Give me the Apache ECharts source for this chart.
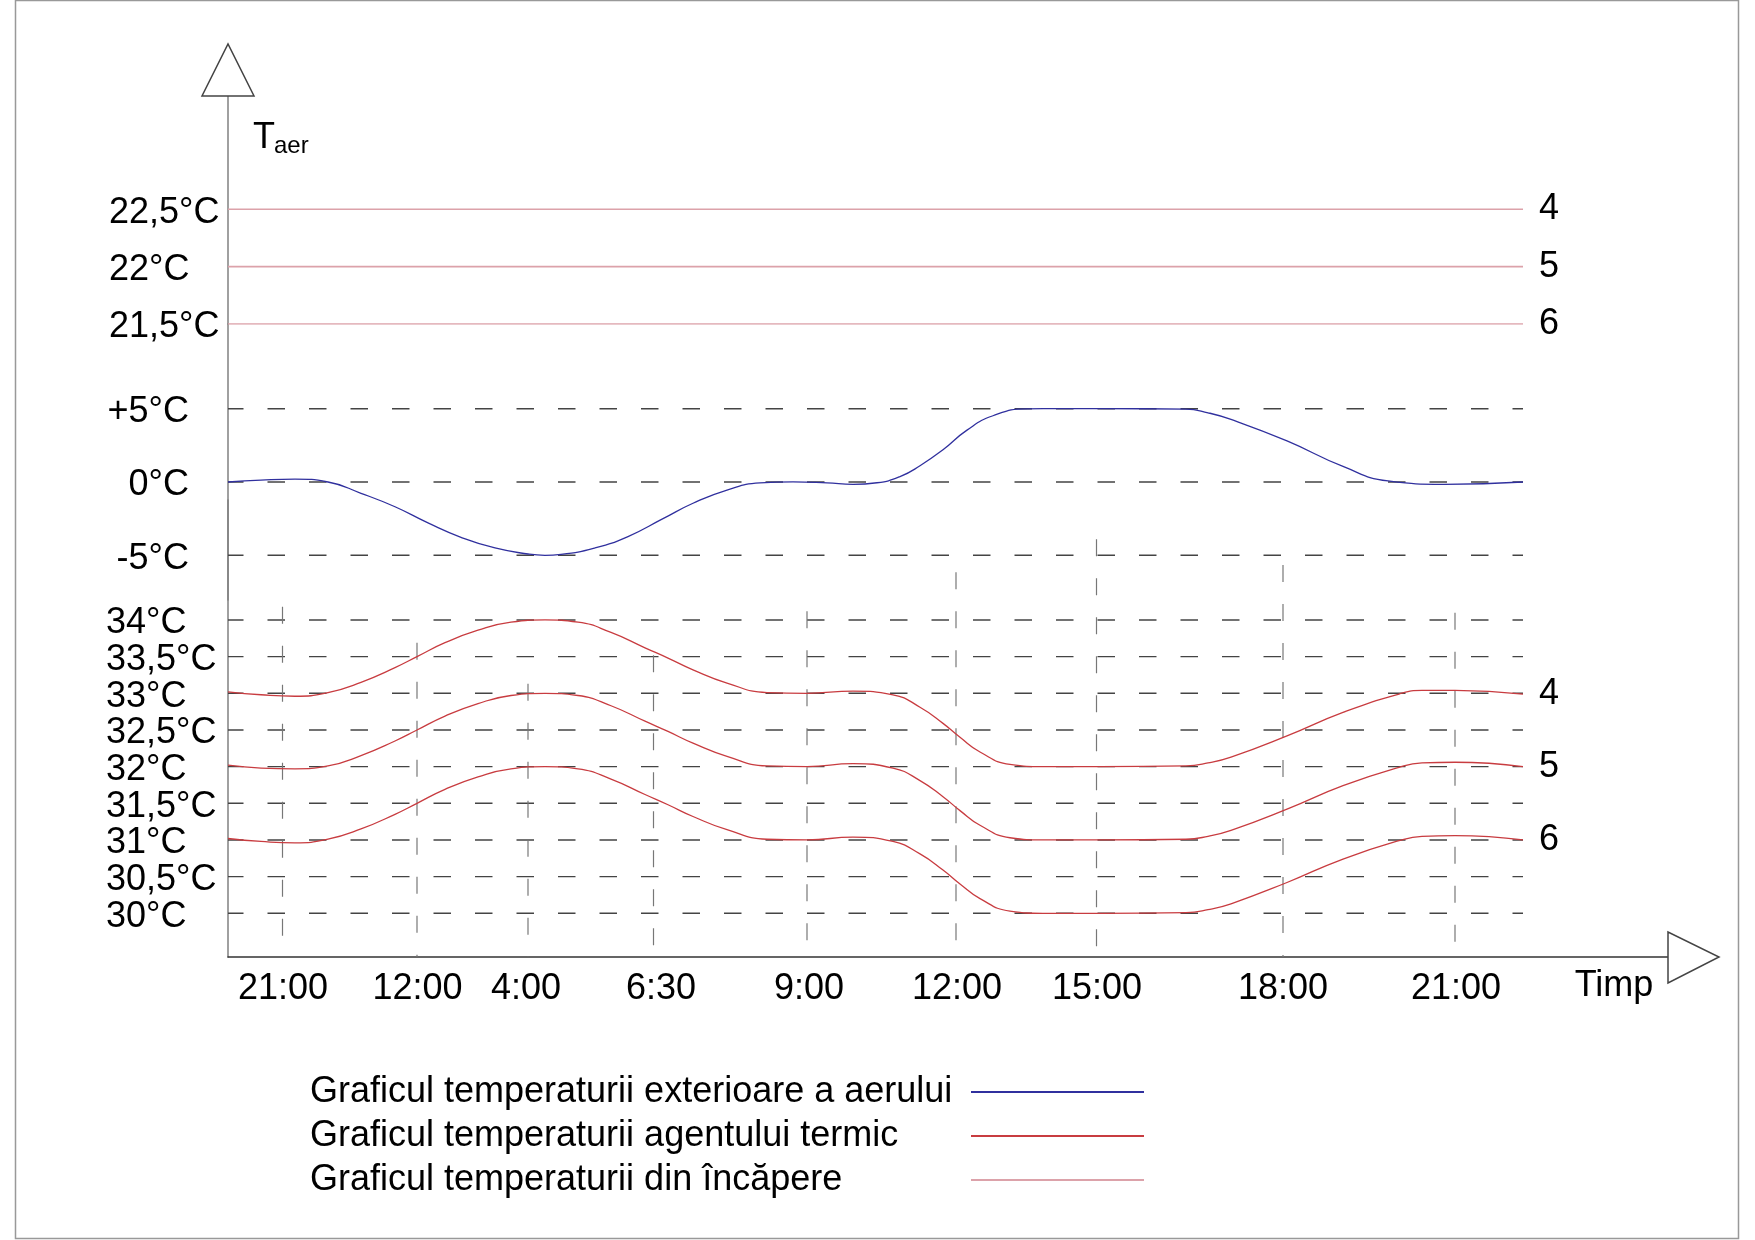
<!DOCTYPE html>
<html><head><meta charset="utf-8">
<script src="https://cdn.jsdelivr.net/npm/echarts@6/dist/echarts.min.js"></script>
<style>html,body{margin:0;padding:0;background:#fff}#c{width:1755px;height:1240px}</style>
</head><body><div id="c"></div>
<script>
// ---------------- data ----------------
// x is an abstract position along the time axis (0 = vertical axis)
const xLabels   = ['21:00','12:00','4:00','6:30','9:00','12:00','15:00','18:00','21:00'];
const xLabelPos = [5.5, 18.95, 29.8, 43.3, 58.1, 72.9, 86.9, 105.5, 122.8];
const vLinePos  = [5.45, 18.9, 30.0, 42.55, 57.9, 72.8, 86.85, 105.5, 122.7];
const vLineTop  = [34.18, 33.69, 33.13, 33.52, 34.12, 34.65, 35.10, 34.75, 34.10];
const xEnd = 129.5;

const roomLevels = [22.5, 22, 21.5];
const roomLabels = ['21,5°C','22°C','22,5°C'];
const roomTicks  = [21.5, 22, 22.5];
const roomTags   = ['4','5','6'];

const outdoorTicks  = [-5, 0, 5];
const outdoorLabels = ['-5°C','0°C','+5°C'];

const agentTicks  = [30, 30.5, 31, 31.5, 32, 32.5, 33, 33.5, 34];
const agentLabels = ['30°C','30,5°C','31°C','31,5°C','32°C','32,5°C','33°C','33,5°C','34°C'];
const agentTags   = ['4','5','6'];

const outdoorX = [0, 3.3, 6.7, 10, 13.3, 16.7, 20, 23.3, 26.7, 30, 31.7, 33.3, 36.7, 40, 43.5, 46.5, 49.9, 53.2, 56.5, 59.9, 62.5, 64.9, 67.2, 69.2, 71.5, 73.9, 76.5, 79.9, 83.2, 87.2, 95.8, 98, 100.3, 105.9, 111.5, 116, 121.6, 129.5];
const outdoorT = [0, 0.13, 0.2, 0.0, -0.77, -1.69, -2.79, -3.77, -4.5, -4.91, -5, -4.94, -4.5, -3.72, -2.5, -1.45, -0.55, -0.06, 0.01, -0.06, -0.16, -0.05, 0.37, 1.11, 2.2, 3.54, 4.52, 4.99, 5, 5, 4.97, 4.72, 4.27, 2.8, 1.06, 0.07, -0.16, 0];

const agentX = [0, 3.3, 6.7, 10, 13.3, 16.7, 18.9, 21.7, 25, 28.3, 31.7, 35, 38.3, 41.7, 44, 46.5, 49.9, 53.9, 57.9, 62.5, 66.5, 69.2, 71.5, 73.2, 75.2, 78.2, 81.5, 87.2, 95.8, 98, 100.3, 105.9, 111.5, 117.1, 119.4, 122.7, 129.5];
const agent4 = [33.02, 32.98, 32.96, 33.01, 33.15, 33.35, 33.5, 33.69, 33.86, 33.97, 34.0, 33.97, 33.83, 33.62, 33.48, 33.32, 33.14, 33.01, 33.0, 33.03, 32.98, 32.81, 32.59, 32.4, 32.2, 32.03, 32.0, 32.0, 32.01, 32.05, 32.13, 32.42, 32.74, 32.99, 33.04, 33.04, 32.99];
const agent5 = [32.02, 31.98, 31.97, 32.01, 32.15, 32.35, 32.5, 32.69, 32.86, 32.97, 33.0, 32.97, 32.83, 32.62, 32.48, 32.32, 32.14, 32.01, 32.0, 32.04, 31.98, 31.81, 31.59, 31.4, 31.2, 31.03, 31.0, 31.0, 31.01, 31.05, 31.13, 31.42, 31.74, 31.99, 32.05, 32.06, 32.0];
const agent6 = [31.02, 30.98, 30.96, 31.01, 31.15, 31.35, 31.5, 31.69, 31.86, 31.97, 32.0, 31.97, 31.83, 31.62, 31.48, 31.32, 31.14, 31.01, 31.0, 31.04, 30.98, 30.81, 30.59, 30.4, 30.2, 30.03, 30.0, 30.0, 30.01, 30.05, 30.13, 30.42, 30.74, 30.99, 31.05, 31.06, 31.0];

const NAME_OUT   = 'Graficul temperaturii exterioare a aerului';
const NAME_AGENT = 'Graficul temperaturii agentului termic';
const NAME_ROOM  = 'Graficul temperaturii din încăpere';

// ---------------- styling / layout ----------------
const FONT = "'Liberation Sans', Arial, sans-serif";
const FS = 36;
const BLUE = '#30309e', RED = '#c83c40', PINK = '#dca2aa';
const AX_LEFT = 228, AX_RIGHT_END = 1668, X_MAX = 144;
const ROOM_MIN = 21.5, ROOM_MAX = 23.4878;
const OUT_MIN = -8.049, OUT_MAX = 10.778;
const AGENT_MIN = 29.404, AGENT_MAX = 35.636;

function lookup(vals, labels) {
  return v => { const i = vals.findIndex(p => Math.abs(p - v) < 1e-6); return i >= 0 ? labels[i] : ''; };
}
function lookupRich(vals, labels) {
  const f = lookup(vals, labels);
  return v => { const s = f(v); return s ? '{v|' + s + '}' : ''; };
}
const zip = (xs, ys) => xs.map((x, i) => [x, ys[i]]);

function gridLine(g, pts, style) {
  return { type: 'line', xAxisIndex: g, yAxisIndex: g, data: pts, symbol: 'none', silent: true,
    lineStyle: style, z: 1, animation: false };
}
function curve(g, name, color, pts, tag, w) {
  const data = pts.map((p, i) => (i === pts.length - 1 && tag) ? { value: p, label: { show: true, formatter: tag } } : p);
  return { type: 'line', name, xAxisIndex: g, yAxisIndex: g, data, color,
    smooth: pts.length > 2 ? 0.5 : false,
    symbol: 'circle', symbolSize: 0, showSymbol: true, showAllSymbol: true,
    lineStyle: { color, width: w }, itemStyle: { color },
    label: { show: false, position: 'right', distance: 16, fontSize: FS, color: '#000', fontFamily: FONT },
    emphasis: { disabled: true }, silent: true, z: 3 };
}

const hDash = { color: '#444', width: 1.4, type: [17.5, 24], dashOffset: 2 };
const vDash = { color: '#777', width: 1.2, type: [17, 22] };

const series = [];
outdoorTicks.forEach(v => series.push(gridLine(1, [[0, v], [xEnd, v]], hDash)));
agentTicks.forEach(v => series.push(gridLine(2, [[0, v], [xEnd, v]], hDash)));
vLinePos.forEach((x, i) => series.push(gridLine(2, [[x, vLineTop[i]], [x, AGENT_MIN]], vDash)));
roomLevels.forEach((v, i) => series.push(curve(0, NAME_ROOM, PINK, [[0, v], [xEnd, v]], roomTags[i], 1.6)));
series.push(curve(1, NAME_OUT, BLUE, zip(outdoorX, outdoorT), null, 1.3));
[agent4, agent5, agent6].forEach((arr, i) => series.push(curve(2, NAME_AGENT, RED, zip(agentX, arr), agentTags[i], 1.3)));

const gridCommon = { left: AX_LEFT, right: 1755 - AX_RIGHT_END, containLabel: false };
const yLine = { show: true, lineStyle: { color: '#808080', width: 1.5 } };
const lbl = { fontSize: FS, color: '#000', fontFamily: FONT };
const ylbl = Object.assign({ rich: { v: { fontSize: FS, color: '#000', fontFamily: FONT, padding: [7, 0, 0, 0] } } }, lbl);

const option = {
  animation: false,
  backgroundColor: '#fff',
  grid: [
    Object.assign({ top: 96, height: 228 }, gridCommon),
    Object.assign({ top: 324, height: 276 }, gridCommon),
    Object.assign({ top: 500, height: 457 }, gridCommon)
  ],
  xAxis: [0, 1, 2].map(i => ({
    gridIndex: i, type: 'value', min: 0, max: X_MAX,
    show: i === 2,
    axisLine: { show: i === 2, lineStyle: { color: '#333', width: 1.5 } },
    axisTick: { show: false }, splitLine: { show: false },
    axisLabel: Object.assign({ show: i === 2, customValues: xLabelPos, margin: 14,
      formatter: lookup(xLabelPos, xLabels) }, lbl)
  })),
  yAxis: [
    { gridIndex: 0, type: 'value', min: ROOM_MIN, max: ROOM_MAX, axisLine: yLine,
      axisTick: { show: false }, splitLine: { show: false },
      axisLabel: Object.assign({ customValues: roomTicks, align: 'left', margin: 119,
        formatter: lookupRich(roomTicks, roomLabels) }, ylbl) },
    { gridIndex: 1, type: 'value', min: OUT_MIN, max: OUT_MAX, axisLine: yLine,
      axisTick: { show: false }, splitLine: { show: false },
      axisLabel: Object.assign({ customValues: outdoorTicks, align: 'right', margin: 39,
        formatter: lookupRich(outdoorTicks, outdoorLabels) }, ylbl) },
    { gridIndex: 2, type: 'value', min: AGENT_MIN, max: AGENT_MAX, axisLine: yLine,
      axisTick: { show: false }, splitLine: { show: false },
      axisLabel: Object.assign({ customValues: agentTicks, align: 'left', margin: 122,
        formatter: lookupRich(agentTicks, agentLabels) }, ylbl) }
  ],
  legend: {
    data: [NAME_OUT, NAME_AGENT, NAME_ROOM],
    orient: 'vertical', left: 310, top: 1074, padding: 0, itemGap: 8,
    itemWidth: 173, itemHeight: 2, icon: 'rect', align: 'right',
    selectedMode: false,
    formatter: '{a|{name}}',
    textStyle: { rich: { a: { width: 656, fontSize: FS, color: '#000', fontFamily: FONT, align: 'left' } } }
  },
  graphic: [
    { type: 'rect', shape: { x: 15.5, y: 0.5, width: 1723, height: 1238 }, style: { fill: 'none', stroke: '#999', lineWidth: 1.5 }, z: 0, silent: true },
    { type: 'polygon', shape: { points: [[202, 96], [254, 96], [228, 44]] }, style: { fill: '#fff', stroke: '#444', lineWidth: 1.5 }, z: 10, silent: true },
    { type: 'polygon', shape: { points: [[1668, 932], [1668, 983], [1719, 957]] }, style: { fill: '#fff', stroke: '#444', lineWidth: 1.5 }, z: 10, silent: true },
    { type: 'text', x: 253, y: 138, style: { text: 'T', fontSize: FS, fontFamily: FONT, fill: '#000', verticalAlign: 'middle' }, silent: true },
    { type: 'text', x: 274, y: 146, style: { text: 'aer', fontSize: 24, fontFamily: FONT, fill: '#000', verticalAlign: 'middle' }, silent: true },
    { type: 'text', x: 1614, y: 986, style: { text: 'Timp', fontSize: FS, fontFamily: FONT, fill: '#000', align: 'center', verticalAlign: 'middle' }, silent: true }
  ],
  series
};

const chart = echarts.init(document.getElementById('c'), null, { renderer: 'canvas' });
chart.setOption(option);
</script></body></html>
